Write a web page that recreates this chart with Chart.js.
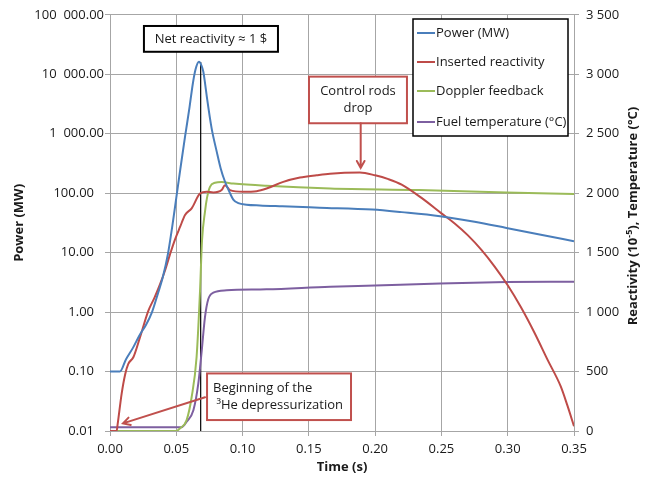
<!DOCTYPE html>
<html>
<head>
<meta charset="utf-8">
<script src="https://cdn.jsdelivr.net/npm/chart.js@4.4.0/dist/chart.umd.min.js"></script>
<style>
  html, body { margin: 0; padding: 0; background: #fff; }
</style>
</head>
<body>
<canvas id="chart" width="650" height="481"></canvas>
<script>
const FONT = "'Open Sans', 'Liberation Sans', sans-serif";
const TEXT = '#1a1a1a';
const GRID = '#a6a6a6';

// axes
const timeTicks = [0, 0.05, 0.10, 0.15, 0.20, 0.25, 0.30, 0.35];
const powerTicks = [0.01, 0.1, 1, 10, 100, 1000, 10000, 100000];
const rightTicks = [0, 500, 1000, 1500, 2000, 2500, 3000, 3500];

// Power (MW), left log axis
const powerTime = [0, 0.0075, 0.012, 0.0173, 0.0226, 0.027, 0.0317, 0.036, 0.040, 0.0437, 0.047,
  0.050, 0.053, 0.0566, 0.060, 0.0625, 0.0645, 0.0671, 0.069, 0.0704, 0.0715, 0.0729, 0.0767,
  0.0805, 0.0835, 0.0867, 0.0905, 0.093, 0.0968, 0.103, 0.113, 0.13, 0.158, 0.198, 0.22, 0.249,
  0.275, 0.299, 0.325, 0.35];
const powerMW = [0.1, 0.1, 0.16, 0.25, 0.42, 0.6, 1.0, 2.0, 4.0, 9.5, 28,
  83, 250, 890, 2800, 7000, 12000, 16200, 14000, 11000, 7600, 4400, 1216,
  500, 261, 157, 100, 78, 68, 64, 62, 60, 57, 53, 48, 41,
  33, 26, 20, 15.5];

// Inserted reactivity (1e-5), right axis
const reactTime = [0, 0.005, 0.0058, 0.0088, 0.0115, 0.0138, 0.0176, 0.0226, 0.0289, 0.0335, 0.0377,
  0.0415, 0.0452, 0.049, 0.053, 0.0566, 0.0616, 0.0679, 0.0729, 0.0779, 0.0842, 0.0867, 0.0905,
  0.1005, 0.1106, 0.1181, 0.1307, 0.1433, 0.1559, 0.1659, 0.1885, 0.20, 0.21, 0.22, 0.235, 0.25,
  0.26, 0.27, 0.28, 0.29, 0.30, 0.31, 0.32, 0.33, 0.34, 0.345, 0.35];
const reactValue = [0, 0, 60, 315, 480, 565, 620, 787, 1010, 1120, 1233,
  1350, 1483, 1610, 1720, 1817, 1872, 1997, 2012, 2006, 2026, 2067, 2026,
  2012, 2017, 2039, 2095, 2131, 2151, 2164, 2173, 2150, 2118, 2072, 1960, 1830,
  1745, 1645, 1525, 1385, 1225, 1040, 830, 600, 375, 215, 40];

// Doppler feedback (1e-5), right axis
const dopplerTime = [0, 0.05, 0.0528, 0.0578, 0.0616, 0.0653, 0.0679, 0.0694, 0.0717, 0.0731,
  0.0754, 0.0792, 0.0842, 0.093, 0.118, 0.166, 0.233, 0.299, 0.35];
const dopplerValue = [0, 0, 22, 92, 286, 620, 1177, 1600, 1850, 1956,
  2053, 2087, 2093, 2081, 2062, 2039, 2026, 2006, 1992];

// Fuel temperature (°C), right axis
const fuelTime = [0, 0.054, 0.0578, 0.0629, 0.0666, 0.0692, 0.0716, 0.0741, 0.0779, 0.088,
  0.118, 0.166, 0.2, 0.249, 0.299, 0.35];
const fuelTemp = [31, 31, 78, 175, 398, 676, 954, 1108, 1163, 1183,
  1191, 1213, 1224, 1241, 1252, 1255];

// marker at net reactivity ~ 1 $
const netTime = [0.0684, 0.0684];
const netPower = [16000, 0.01];

// annotations, in data units (time, right axis value)
const netBox = { t0: 0.0256, t1: 0.1267, v0: 3189, v1: 3406, lines: ['Net reactivity \u2248 1 $'], color: '#000' };
const rodsBox = { t0: 0.1501, t1: 0.2240, v0: 2588, v1: 2980, lines: ['Control rods', 'drop'], color: '#c0504d' };
const heBox = { t0: 0.0732, t1: 0.1818, v0: 92, v1: 484, lines: ['Beginning of the', ' \u00b3He depressurization'], color: '#c0504d', left: true };
const rodsArrow = { from: [0.1891, 2588], to: [0.1891, 2212] };
const heArrow = { from: [0.0717, 284], to: [0.0098, 64] };

const pts = (xs, ys) => xs.map((x, i) => ({ x: x, y: ys[i] }));

function spaced(v, dec, sep) {
  const parts = Number(v).toFixed(dec).split('.');
  const ip = parts[0].replace(/\B(?=(\d{3})+(?!\d))/g, sep);
  return parts.length > 1 ? ip + '.' + parts[1] : ip;
}

function line(label, data, color, axis) {
  return {
    label: label, data: data, yAxisID: axis,
    borderColor: color, backgroundColor: color, borderWidth: 2,
    pointRadius: 0, cubicInterpolationMode: 'monotone', fill: false
  };
}

const decor = {
  id: 'decor',
  afterDraw(chart) {
    const ctx = chart.ctx;
    const xs = chart.scales.x, yl = chart.scales.y, yr = chart.scales.y2;
    const area = chart.chartArea;
    const px = t => xs.getPixelForValue(t);
    const py = v => yr.getPixelForValue(v);

    ctx.save();
    ctx.fillStyle = TEXT;
    ctx.textBaseline = 'middle';

    // left tick labels (values with a thousands group sit further right)
    ctx.font = '13px ' + FONT;
    ctx.textAlign = 'right';
    powerTicks.forEach(v => {
      ctx.fillText(spaced(v, 2, '\u00a0\u00a0'), v >= 1000 ? 104 : 94, yl.getPixelForValue(v));
    });

    // axis titles
    ctx.font = 'bold 13px ' + FONT;
    ctx.textAlign = 'center';
    ctx.fillText('Time (s)', (area.left + area.right) / 2, 467);

    ctx.save();
    ctx.translate(19, (area.top + area.bottom) / 2);
    ctx.rotate(-Math.PI / 2);
    ctx.fillText('Power (MW)', 0, 0);
    ctx.restore();

    // right title with superscript
    const pieces = [['Reactivity (10', 13, 0], ['-5', 9, -4], ['), Temperature (\u00b0C)', 13, 0]];
    let total = 0;
    pieces.forEach(p => { ctx.font = 'bold ' + p[1] + 'px ' + FONT; total += ctx.measureText(p[0]).width; });
    ctx.save();
    ctx.translate(633, 216);
    ctx.rotate(-Math.PI / 2);
    ctx.textAlign = 'left';
    let cx = -total / 2;
    pieces.forEach(p => {
      ctx.font = 'bold ' + p[1] + 'px ' + FONT;
      ctx.fillText(p[0], cx, p[2]);
      cx += ctx.measureText(p[0]).width;
    });
    ctx.restore();

    // annotation boxes
    ctx.font = '13px ' + FONT;
    [netBox, rodsBox, heBox].forEach(b => {
      const x0 = px(b.t0), x1 = px(b.t1), y0 = py(b.v1), y1 = py(b.v0);
      ctx.fillStyle = '#fff';
      ctx.fillRect(x0, y0, x1 - x0, y1 - y0);
      ctx.strokeStyle = b.color;
      ctx.lineWidth = 2;
      ctx.strokeRect(x0, y0, x1 - x0, y1 - y0);
      ctx.fillStyle = TEXT;
      const lh = 17;
      const startY = (y0 + y1) / 2 - (b.lines.length - 1) * lh / 2;
      b.lines.forEach((s, i) => {
        if (b.left) {
          ctx.textAlign = 'left';
          ctx.fillText(s, x0 + 6, startY + i * lh);
        } else {
          ctx.textAlign = 'center';
          ctx.fillText(s, (x0 + x1) / 2, startY + i * lh);
        }
      });
    });

    // arrows
    [rodsArrow, heArrow].forEach(a => {
      const x0 = px(a.from[0]), y0 = py(a.from[1]);
      const x1 = px(a.to[0]), y1 = py(a.to[1]);
      const ang = Math.atan2(y1 - y0, x1 - x0);
      ctx.strokeStyle = '#c0504d';
      ctx.lineWidth = 2;
      ctx.lineCap = 'round';
      ctx.beginPath();
      ctx.moveTo(x0, y0);
      ctx.lineTo(x1, y1);
      ctx.moveTo(x1 - 8 * Math.cos(ang - 0.5), y1 - 8 * Math.sin(ang - 0.5));
      ctx.lineTo(x1, y1);
      ctx.lineTo(x1 - 8 * Math.cos(ang + 0.5), y1 - 8 * Math.sin(ang + 0.5));
      ctx.stroke();
    });

    // legend
    const lx0 = 413, ly0 = 19, lx1 = 568, ly1 = 136;
    ctx.fillStyle = '#fff';
    ctx.fillRect(lx0, ly0, lx1 - lx0, ly1 - ly0);
    ctx.strokeStyle = '#000';
    ctx.lineWidth = 1.5;
    ctx.strokeRect(lx0, ly0, lx1 - lx0, ly1 - ly0);
    const rows = [33, 62, 91, 122];
    const items = chart.data.datasets.filter(d => d.label);
    ctx.font = '13px ' + FONT;
    ctx.textAlign = 'left';
    items.forEach((d, i) => {
      ctx.strokeStyle = d.borderColor;
      ctx.lineWidth = 2;
      ctx.lineCap = 'butt';
      ctx.beginPath();
      ctx.moveTo(417, rows[i]);
      ctx.lineTo(435, rows[i]);
      ctx.stroke();
      ctx.fillStyle = TEXT;
      ctx.fillText(d.label, 436, rows[i]);
    });
    ctx.restore();
  }
};

new Chart(document.getElementById('chart'), {
  type: 'line',
  data: {
    datasets: [
      line('Power (MW)', pts(powerTime, powerMW), '#4a7ebb', 'y'),
      line('Inserted reactivity', pts(reactTime, reactValue), '#be4b48', 'y2'),
      line('Doppler feedback', pts(dopplerTime, dopplerValue), '#9bbb59', 'y2'),
      line('Fuel temperature (\u00b0C)', pts(fuelTime, fuelTemp), '#7d5fa0', 'y2'),
      { label: '', data: pts(netTime, netPower), yAxisID: 'y', borderColor: '#000',
        borderWidth: 1.2, pointRadius: 0, fill: false }
    ]
  },
  options: {
    responsive: false,
    animation: false,
    devicePixelRatio: 1,
    layout: { padding: { left: 0, right: 0, top: 12, bottom: 0 } },
    plugins: { legend: { display: false }, tooltip: { enabled: false }, title: { display: false } },
    scales: {
      x: {
        type: 'linear', min: 0, max: 0.35,
        afterBuildTicks: s => { s.ticks = timeTicks.map(v => ({ value: v })); },
        afterFit: s => { s.height = 50; },
        grid: { color: GRID, lineWidth: 1, tickLength: 5 },
        border: { color: GRID, width: 1 },
        ticks: { color: TEXT, font: { family: FONT, size: 13 }, padding: 5, maxRotation: 0,
          callback: v => Number(v).toFixed(2) }
      },
      y: {
        type: 'logarithmic', position: 'left', min: 0.01, max: 100000,
        afterBuildTicks: s => { s.ticks = powerTicks.map(v => ({ value: v })); },
        afterFit: s => { s.width = 110; },
        grid: { color: GRID, lineWidth: 1, tickLength: 5 },
        border: { color: GRID, width: 1 },
        ticks: { display: false }
      },
      y2: {
        type: 'linear', position: 'right', min: 0, max: 3500,
        afterBuildTicks: s => { s.ticks = rightTicks.map(v => ({ value: v })); },
        afterFit: s => { s.width = 76; },
        grid: { drawOnChartArea: false, color: GRID, tickLength: 5 },
        border: { color: GRID, width: 1 },
        ticks: { color: TEXT, font: { family: FONT, size: 13 }, padding: 7,
          callback: v => spaced(v, 0, ' ') }
      }
    }
  },
  plugins: [decor]
});
</script>
</body>
</html>
